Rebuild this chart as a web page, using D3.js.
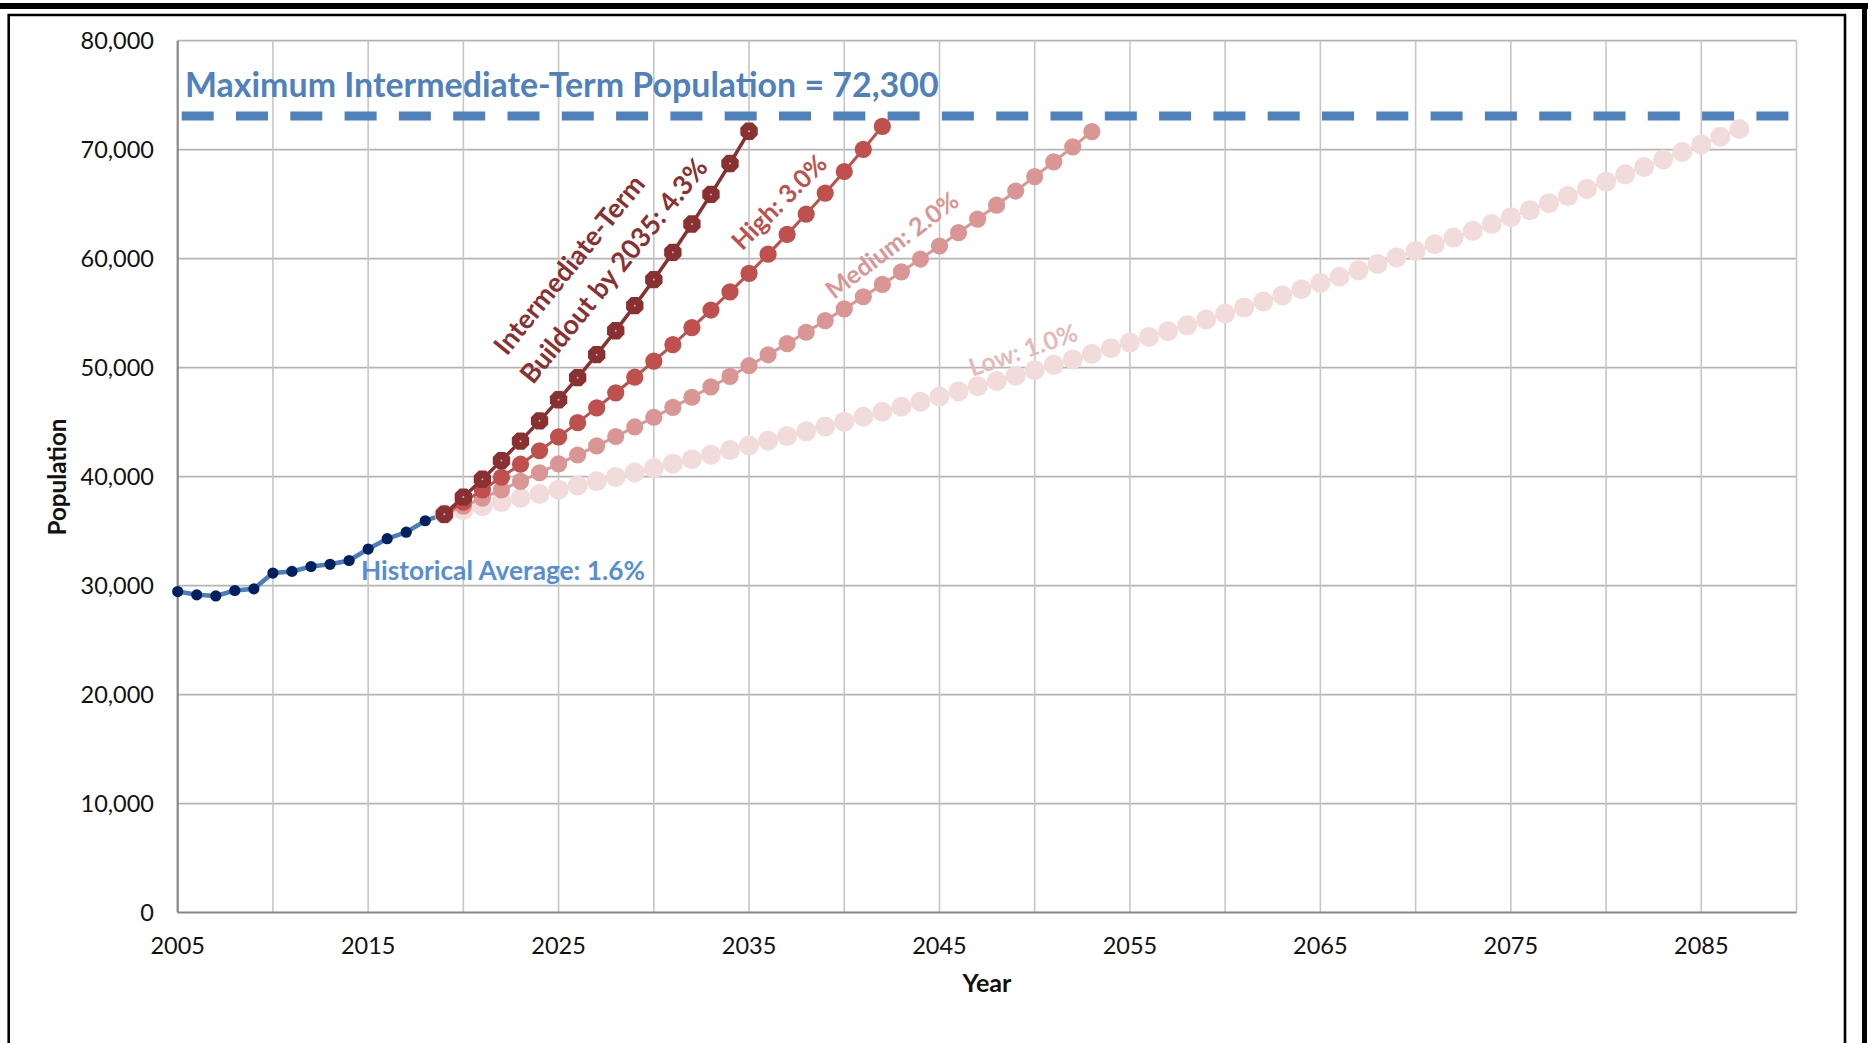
<!DOCTYPE html>
<html><head><meta charset="utf-8">
<script src="https://cdn.jsdelivr.net/npm/d3@7"></script>
<style>html,body{margin:0;padding:0;background:#fff;overflow:hidden} svg{display:block} text{font-family:Lato,"Open Sans",sans-serif}</style>
</head><body><svg id="c" width="1868" height="1043"></svg>
<script>
// ---------- data ----------
const histYears = [2005,2006,2007,2008,2009,2010,2011,2012,2013,2014,2015,2016,2017,2018,2019];
const histValues = [29450,29150,29050,29550,29700,31150,31300,31750,31950,32300,33350,34300,34900,35950,36550];

const projStartYear = 2019;
const intermediateValues = [36550,38122,39761,41471,43254,45114,47054,49077,51187,53388,55684,58078,60576,63181,65897,68731,71687];
const highValues = [36550,37647,38776,39939,41137,42372,43643,44952,46301,47690,49120,50594,52112,53675,55285,56944,58652,60412,62224,64091,66014,67994,70034,72135];
const mediumValues = [36550,37281,38027,38787,39563,40354,41161,41984,42824,43681,44554,45445,46354,47281,48227,49191,50175,51179,52202,53246,54311,55398,56506,57636,58788,59964,61163,62387,63634,64907,66205,67529,68880,70258,71663];
const lowValues = [36550,36916,37285,37658,38034,38414,38799,39187,39578,39974,40374,40778,41186,41597,42013,42433,42858,43286,43719,44156,44598,45044,45494,45949,46409,46873,47342,47815,48293,48776,49264,49757,50254,50757,51264,51777,52295,52818,53346,53879,54418,54962,55512,56067,56628,57194,57766,58344,58927,59516,60111,60713,61320,61933,62552,63178,63809,64448,65092,65743,66400,67064,67735,68412,69096,69787,70485,71190,71902];

const maxLineYears = [2005,2090];
const maxLineValue = 73100;

const yTickValues = [0,10000,20000,30000,40000,50000,60000,70000,80000];
const xLabelYears = [2005,2015,2025,2035,2045,2055,2065,2075,2085];
const xGridYears = [2010,2015,2020,2025,2030,2035,2040,2045,2050,2055,2060,2065,2070,2075,2080,2085,2090];

const titleText = "Maximum Intermediate-Term Population = 72,300";
const histLabel = "Historical Average: 1.6%";
const interLabel1 = "Intermediate-Term";
const interLabel2 = "Buildout by 2035: 4.3%";
const highLabel = "High: 3.0%";
const mediumLabel = "Medium: 2.0%";
const lowLabel = "Low: 1.0%";
const xTitle = "Year";
const yTitle = "Population";

// ---------- chart ----------
const svg = d3.select("#c");
const x = d3.scaleLinear().domain([2005,2090]).range([177.7,1796.5]);
const y = d3.scaleLinear().domain([0,80000]).range([912.5,40.7]);

// frames
svg.append("rect").attr("x",0).attr("y",3).attr("width",1868).attr("height",6).attr("fill","#000");
svg.append("rect").attr("x",1862).attr("y",3).attr("width",5).attr("height",1040).attr("fill","#000");
svg.append("path").attr("d","M8.7,1043 V15 H1845 V1043").attr("fill","none").attr("stroke","#000").attr("stroke-width",2.6);

// gridlines
const g = svg.append("g");
g.selectAll("line.hg").data(yTickValues.filter(d=>d>0)).join("line")
  .attr("x1",x(2005)).attr("x2",x(2090)).attr("y1",d=>y(d)).attr("y2",d=>y(d))
  .attr("stroke","#b4b4b4").attr("stroke-width",1.8);
g.selectAll("line.vg").data(xGridYears).join("line")
  .attr("x1",d=>x(d)).attr("x2",d=>x(d)).attr("y1",y(0)).attr("y2",y(80000))
  .attr("stroke","#c6c6c6").attr("stroke-width",1.6);

// axes lines
svg.append("line").attr("x1",x(2005)).attr("x2",x(2090)).attr("y1",y(0)).attr("y2",y(0)).attr("stroke","#878787").attr("stroke-width",2.2);
svg.append("line").attr("x1",x(2005)).attr("x2",x(2005)).attr("y1",y(0)).attr("y2",y(80000)).attr("stroke","#878787").attr("stroke-width",2.2);

// tick labels
const fmt = d3.format(",");
svg.selectAll("text.yt").data(yTickValues).join("text")
  .attr("x",154).attr("y",d=>y(d)).attr("dy","0.36em").attr("text-anchor","end")
  .attr("font-size",23.5).attr("fill","#111").text(d=>fmt(d));
svg.selectAll("text.xt").data(xLabelYears).join("text")
  .attr("x",d=>x(d)).attr("y",954).attr("text-anchor","middle")
  .attr("font-size",23.5).attr("fill","#111").text(d=>d);

function fit(t, w){ const cur=t.node().getComputedTextLength(); t.attr("font-size", (+t.attr("font-size"))*w/cur); return t; }

fit(svg.append("text").attr("x",987).attr("y",992).attr("text-anchor","middle").attr("font-weight",700).attr("font-size",22).attr("fill","#111").text(xTitle),49);
fit(svg.append("text").attr("transform","translate(66,477) rotate(-90)").attr("text-anchor","middle").attr("font-weight",700).attr("font-size",22).attr("fill","#111").text(yTitle),117);

// max dashed line
svg.append("path").datum(maxLineYears)
  .attr("d",d3.line().x(d=>x(d)).y(()=>y(maxLineValue)))
  .attr("stroke","#4f81bd").attr("stroke-width",9).attr("fill","none")
  .attr("stroke-dasharray","32,22.3").attr("stroke-dashoffset",50.3);

const lineGen = (start)=>d3.line().x((d,i)=>x(start+i)).y(d=>y(d));

// historical
svg.append("path").datum(histValues).attr("d",d3.line().x((d,i)=>x(histYears[i])).y(d=>y(d)))
  .attr("fill","none").attr("stroke","#4a7ebb").attr("stroke-width",4.5);
svg.selectAll("circle.h").data(histValues).join("circle")
  .attr("cx",(d,i)=>x(histYears[i])).attr("cy",d=>y(d)).attr("r",5.6).attr("fill","#002060");

function series(vals, color, r, lw){
  svg.append("path").datum(vals).attr("d",lineGen(projStartYear)).attr("fill","none").attr("stroke",color).attr("stroke-width",lw);
  svg.append("g").selectAll("circle").data(vals).join("circle")
    .attr("cx",(d,i)=>x(projStartYear+i)).attr("cy",d=>y(d)).attr("r",r).attr("fill",color);
}
series(lowValues,"#f2dcdb",10,3);
series(mediumValues,"#da9694",8.6,3);
series(highValues,"#c0504d",8.6,3);

// intermediate with octagon markers
const interColor = "#8b3030";
svg.append("path").datum(intermediateValues).attr("d",lineGen(projStartYear)).attr("fill","none").attr("stroke",interColor).attr("stroke-width",3.5);
function octagon(r){ let p=""; for(let k=0;k<8;k++){ const a=Math.PI/8+k*Math.PI/4; p+=(k?"L":"M")+(r*Math.cos(a)).toFixed(2)+","+(r*Math.sin(a)).toFixed(2);} return p+"Z"; }
const ig = svg.append("g").selectAll("g").data(intermediateValues).join("g")
  .attr("transform",(d,i)=>`translate(${x(projStartYear+i)},${y(d)})`);
ig.append("path").attr("d",octagon(9.4)).attr("fill",interColor);
ig.append("circle").attr("r",1).attr("fill","#b8bcd8");

// annotations
fit(svg.append("text").attr("x",185).attr("y",97).attr("font-weight",700).attr("font-size",30).attr("fill","#4f81bd").text(titleText),754);
fit(svg.append("text").attr("x",361).attr("y",580).attr("font-weight",700).attr("font-size",26).attr("fill","#558ed5").text(histLabel),284);

function rot(txt, cx, cy, ang, w, color){
  const t = svg.append("text").attr("transform",`translate(${cx},${cy}) rotate(${ang})`)
    .attr("text-anchor","middle").attr("dy","0.36em").attr("font-weight",700).attr("font-size",26).attr("fill",color).text(txt);
  fit(t,w);
}
rot(interLabel1,569,264.5,-51,222,"#8b3030");
rot(interLabel2,613.5,270.5,-51,280,"#8b3030");
rot(highLabel,779,202,-45,122,"#c0504d");
rot(mediumLabel,892,245,-37,159,"#da9694");
rot(lowLabel,1023,350,-19,113,"#e6b9b8");
</script></body></html>
